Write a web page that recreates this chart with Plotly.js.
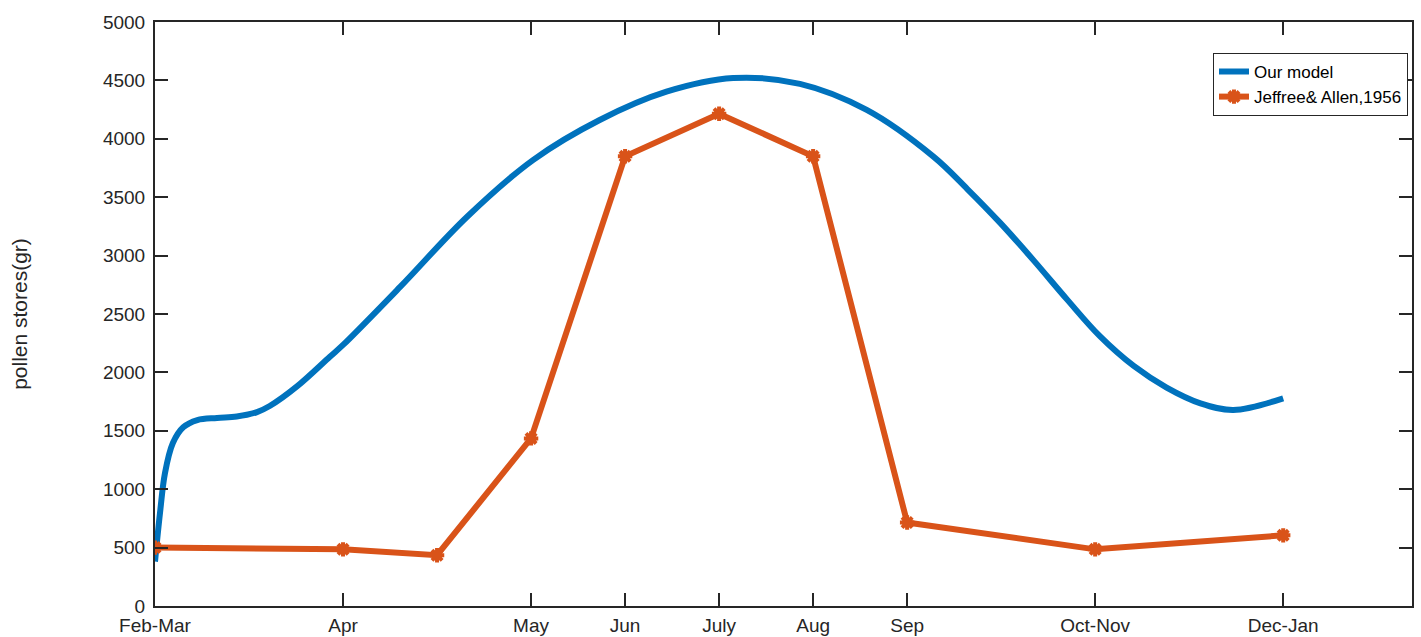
<!DOCTYPE html>
<html>
<head>
<meta charset="utf-8">
<script src="https://cdn.plot.ly/plotly-3.0.1.min.js"></script>
<style>html,body{margin:0;padding:0;background:#fff;}#chart{width:1421px;height:637px;}</style>
</head>
<body>
<div id="chart"></div>
<script>
// Tick categories and their positions on the x axis
const categories = ['Feb-Mar','Apr','May','Jun','July','Aug','Sep','Oct-Nov','Dec-Jan'];
const categoryPos = [0, 2, 4, 5, 6, 7, 8, 10, 12];

// Our model (blue curve)
const modelX = [0, 0.053, 0.106, 0.19, 0.30, 0.45, 0.66, 0.87, 1.085, 1.22, 1.51, 1.86, 2.0, 2.61, 3.32, 4.02, 4.73, 5.44, 6.15, 6.86, 7.57, 8.28, 8.64, 8.99, 9.35, 9.70, 10.05, 10.41, 10.76, 11.12, 11.47, 12.0];
const modelY = [380, 795, 1138, 1395, 1530, 1592, 1610, 1622, 1660, 1712, 1880, 2134, 2235, 2734, 3333, 3818, 4161, 4403, 4520, 4470, 4247, 3847, 3570, 3280, 2955, 2625, 2310, 2055, 1870, 1735, 1678, 1778];

// Jeffree & Allen, 1956 (orange)
const obsX = [0, 2, 3, 4, 5, 6, 7, 8, 10, 12];
const obsY = [500, 485, 435, 1435, 3850, 4215, 3850, 715, 485, 605];

const yTicks = [0,500,1000,1500,2000,2500,3000,3500,4000,4500,5000];

const axisColor = '#262626';
const font = {family: 'Liberation Sans, Arial, Helvetica, sans-serif', size: 19, color: axisColor};

const traces = [
  {x: modelX, y: modelY, mode: 'lines', name: 'Our model',
   line: {color: '#0072BD', width: 6, shape: 'spline', smoothing: 1}},
  {x: obsX, y: obsY, mode: 'lines+markers', name: 'Jeffree& Allen,1956',
   line: {color: '#D95319', width: 6},
   marker: {symbol: 'asterisk-open', size: 12, color: '#D95319', line: {color: '#D95319', width: 4}}}
];

const layout = {
  width: 1421, height: 637,
  margin: {l: 155, r: 9, t: 22, b: 31},
  paper_bgcolor: '#fff', plot_bgcolor: '#fff',
  font: font,
  showlegend: true,
  legend: {x: 0.9968, xanchor: 'right', y: 0.947, yanchor: 'top',
    bgcolor: '#fff', bordercolor: axisColor, borderwidth: 1,
    font: {family: font.family, size: 17, color: '#000'}, tracegroupgap: 0, itemwidth: 30},
  xaxis: {range: [0, 13.37], tickmode: 'array', tickvals: categoryPos, ticktext: categories,
    showgrid: false, zeroline: false, showline: true, linecolor: axisColor, linewidth: 2,
    mirror: 'allticks', ticks: 'inside', ticklen: 13, tickwidth: 2, tickcolor: axisColor,
    tickfont: font, ticklabelstandoff: 1, fixedrange: true},
  yaxis: {range: [0, 5000], tickmode: 'array', tickvals: yTicks,
    showgrid: false, zeroline: false, showline: true, linecolor: axisColor, linewidth: 2,
    mirror: 'allticks', ticks: 'inside', ticklen: 13, tickwidth: 2, tickcolor: axisColor,
    tickfont: font, ticklabelstandoff: 4,
    title: {text: 'pollen stores(gr)', font: {family: font.family, size: 21, color: axisColor}, standoff: 70}}
};

Plotly.newPlot('chart', traces, layout, {displayModeBar: false, staticPlot: true});
</script>
</body>
</html>
